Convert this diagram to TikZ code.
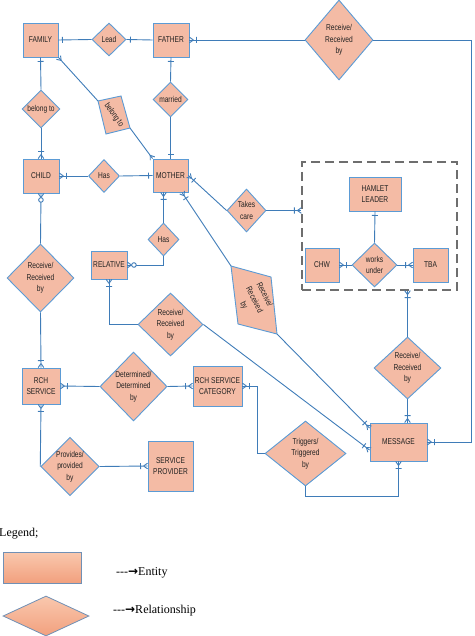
\documentclass[tikz,border=0pt]{standalone}
\usepackage{fontspec}
\setmainfont{Liberation Serif}
\newfontfamily\diagfont[FakeStretch=0.78]{Liberation Sans}
\newfontfamily\arrowfont{DejaVu Sans}
\usetikzlibrary{shapes.geometric,calc}

\definecolor{efill}{HTML}{F4BBA5}
\definecolor{eborder}{HTML}{5B9BD5}
\definecolor{lcol}{HTML}{3F7CB8}
\definecolor{tcol}{HTML}{222222}
\definecolor{dgray}{HTML}{6E6E6E}
\definecolor{legb}{HTML}{7090B5}
\definecolor{legtop}{HTML}{F9C8AE}
\definecolor{legbot}{HTML}{F2A07E}

\pgfdeclarearrow{
  name=ManyOne,
  setup code={\pgfarrowssettipend{0pt}\pgfarrowssetlineend{0pt}\pgfarrowssetbackend{-7pt}},
  drawing code={
    \pgfsetdash{}{0pt}
    \pgfpathmoveto{\pgfpoint{-4pt}{0pt}}\pgfpathlineto{\pgfpoint{0pt}{2.8pt}}
    \pgfpathmoveto{\pgfpoint{-4pt}{0pt}}\pgfpathlineto{\pgfpoint{0pt}{-2.8pt}}
    \pgfpathmoveto{\pgfpoint{-7pt}{3pt}}\pgfpathlineto{\pgfpoint{-7pt}{-3pt}}
    \pgfusepathqstroke},
}
\pgfdeclarearrow{
  name=ManyZero,
  setup code={\pgfarrowssettipend{0pt}\pgfarrowssetlineend{0pt}\pgfarrowssetbackend{-9pt}},
  drawing code={
    \pgfsetdash{}{0pt}
    \pgfpathmoveto{\pgfpoint{-4pt}{0pt}}\pgfpathlineto{\pgfpoint{0pt}{2.8pt}}
    \pgfpathmoveto{\pgfpoint{-4pt}{0pt}}\pgfpathlineto{\pgfpoint{0pt}{-2.8pt}}
    \pgfusepathqstroke
    \pgfsetfillcolor{white}
    \pgfpathcircle{\pgfpoint{-6.5pt}{0pt}}{2.3pt}
    \pgfusepathqfillstroke},
}
\pgfdeclarearrow{
  name=One,
  setup code={\pgfarrowssettipend{0pt}\pgfarrowssetlineend{0pt}\pgfarrowssetbackend{-4pt}},
  drawing code={
    \pgfsetdash{}{0pt}
    \pgfpathmoveto{\pgfpoint{-4pt}{3pt}}\pgfpathlineto{\pgfpoint{-4pt}{-3pt}}
    \pgfusepathqstroke},
}
\pgfdeclarearrow{
  name=Crow,
  setup code={\pgfarrowssettipend{0pt}\pgfarrowssetlineend{0pt}\pgfarrowssetbackend{-4pt}},
  drawing code={
    \pgfsetdash{}{0pt}
    \pgfpathmoveto{\pgfpoint{-4pt}{0pt}}\pgfpathlineto{\pgfpoint{0pt}{2.8pt}}
    \pgfpathmoveto{\pgfpoint{-4pt}{0pt}}\pgfpathlineto{\pgfpoint{0pt}{-2.8pt}}
    \pgfusepathqstroke},
}

\tikzset{
  dfont/.style={font=\diagfont\fontsize{8.5}{11.5}\selectfont, text=tcol},
  ent/.style={draw=eborder, line width=0.9pt, fill=efill, dfont, align=center, inner sep=0pt},
  rel/.style={diamond, draw=eborder, line width=0.9pt, fill=efill, dfont, align=center, inner sep=0pt},
  con/.style={draw=lcol, line width=0.9pt},
  legfont/.style={font=\fontsize{12}{14}\selectfont, text=black},
}

\begin{document}
\begin{tikzpicture}[x=1pt,y=-1pt]
\useasboundingbox (0,0) rectangle (474,636);

% group box
\node[draw=dgray, line width=1.2pt, dash pattern=on 9pt off 5pt, minimum width=155pt, minimum height=128pt, inner sep=0pt] (grp) at (379.5,226) {};

% entities and relationships
\node[ent, minimum width=35pt, minimum height=34pt] (family) at (40.5,40) {FAMILY};
\node[rel, minimum width=34pt, minimum height=33pt] (lead) at (109,39.5) {Lead};
\node[ent, minimum width=36pt, minimum height=34pt] (father) at (171,40) {FATHER};
\node[rel, minimum width=68pt, minimum height=80pt] (rtop) at (339,40) {Receive/\\Received\\by};
\node[rel, minimum width=38pt, minimum height=38pt] (bel1) at (41,109) {belong to};
\node[rel, minimum width=35pt, minimum height=35pt] (married) at (170.5,99.5) {married};
\node[ent, minimum width=36pt, minimum height=34pt] (child) at (41,176) {CHILD};
\node[rel, minimum width=31pt, minimum height=33pt] (has1) at (104,176) {Has};
\node[ent, minimum width=35pt, minimum height=33pt] (mother) at (170.5,175.5) {MOTHER};
\node[rel, minimum width=67pt, minimum height=68pt] (rleft) at (40.5,278) {Receive/\\Received\\by};
\node[rel, minimum width=31pt, minimum height=33pt] (has2) at (163.5,239.5) {Has};
\node[ent, minimum width=36pt, minimum height=28pt] (relative) at (109,265) {RELATIVE};
\node[rel, minimum width=65pt, minimum height=63pt] (rmid) at (170.5,324.5) {Receive/\\Received\\by};
\node[rel, minimum width=39pt, minimum height=43pt] (takes) at (246.5,210.5) {Takes\\care};
\node[ent, minimum width=52pt, minimum height=34pt] (hamlet) at (375,194) {HAMLET\\LEADER};
\node[ent, minimum width=34pt, minimum height=34pt] (chw) at (322,265) {CHW};
\node[rel, minimum width=45pt, minimum height=44pt] (works) at (374.5,265) {works\\under};
\node[ent, minimum width=35pt, minimum height=34pt] (tba) at (430.5,265) {TBA};
\node[rel, minimum width=67pt, minimum height=62pt] (rright) at (407.5,368) {Receive/\\Received\\by};
\node[ent, minimum width=57pt, minimum height=38pt] (message) at (398.5,442) {MESSAGE};
\node[ent, minimum width=38pt, minimum height=36pt] (rch) at (41,386) {RCH\\SERVICE};
\node[rel, minimum width=65pt, minimum height=69pt] (det) at (133.5,386.5) {Determined/\\Determined\\by};
\node[ent, minimum width=49pt, minimum height=40pt] (cat) at (217.5,386) {RCH SERVICE\\CATEGORY};
\node[rel, minimum width=81pt, minimum height=65pt] (trig) at (305.5,453.5) {Triggers/\\Triggered\\by};
\node[rel, minimum width=58pt, minimum height=57pt] (prov) at (70,466.5) {Provides/\\provided\\by};
\node[ent, minimum width=45pt, minimum height=50pt] (sp) at (170.5,466) {SERVICE\\PROVIDER};

% tilted relationship "belong to"
\coordinate (b2a) at (98,101);
\coordinate (b2b) at (121,96);
\coordinate (b2c) at (130,128);
\coordinate (b2d) at (106,134);
\filldraw[fill=efill, draw=eborder, line width=0.9pt] (b2a) -- (b2b) -- (b2c) -- (b2d) -- cycle;
\node[dfont, rotate=-55, inner sep=0pt] (bel2) at (114,115) {belong to};

% tilted relationship "Receive/Received by"
\coordinate (r2a) at (231,266);
\coordinate (r2b) at (271,277);
\coordinate (r2c) at (277,334);
\coordinate (r2d) at (238,324);
\filldraw[fill=efill, draw=eborder, line width=0.9pt] (r2a) -- (r2b) -- (r2c) -- (r2d) -- cycle;
\node[dfont, rotate=-63, align=center, inner sep=0pt] (rrot) at (254,300) {Receive/\\Received\\by};

% connectors
\draw[con,{One}-] (family.east) -- (lead.west);
\draw[con,{One}-] (lead.east) -- (father.west);
\draw[con,{ManyOne}-] (father.east) -- (rtop.west);
\draw[con,{ManyOne}-] (message.east) -- ++(44,0) |- (rtop.east);
\draw[con,{One}-] (family.south) -- (bel1.north);
\draw[con,-{ManyOne}] (bel1.south) -- (child.north);
\draw[con,{Crow}-] (family.south east) -- (b2a);
\draw[con,-{Crow}] (b2c) -- (mother.north west);
\draw[con,{One}-] (father.south) -- (married.north);
\draw[con,-{One}] (married.south) -- (mother.north);
\draw[con,{ManyOne}-] (child.east) -- (has1.west);
\draw[con,-{One}] (has1.east) -- (mother.west);
\draw[con,{ManyZero}-] (child.south) -- (rleft.north);
\draw[con,-{ManyOne}] (rleft.south) -- (rch.north);
\draw[con,{ManyOne}-] (mother.east) -- (takes.west);
\draw[con,-{ManyOne}] (takes.east) -- (takes.east -| grp.west);
\draw[con,{ManyOne}-] ([xshift=11.5pt]mother.south) -- (r2a);
\draw[con,-{ManyOne}] (r2c) -- ([yshift=14pt]message.west);
\draw[con,{ManyOne}-] (has2.north |- mother.south) -- (has2.north);
\draw[con,-{ManyZero}] (has2.south) |- (relative.east);
\draw[con,{ManyOne}-] (relative.south) |- (rmid.west);
\draw[con,-{ManyOne}] (rmid.east) -- ([yshift=-8pt]message.west);
\draw[con,{ManyOne}-] (rch.east) -- (det.west);
\draw[con,-{ManyOne}] (det.east) -- (cat.west);
\draw[con,{ManyOne}-] (cat.east) -- ++(15,0) |- (trig.west);
\draw[con,-{ManyOne}] (trig.south) -- ++(0,10) -| (message.south);
\draw[con,{ManyOne}-] (rch.south) -- (prov.west);
\draw[con,-{ManyOne}] (prov.east) -- (sp.west);
\draw[con,{ManyOne}-] (chw.east) -- (works.west);
\draw[con,-{ManyOne}] (works.east) -- (tba.west);
\draw[con,-{One}] (works.north) -- (hamlet.south);
\draw[con,{ManyOne}-] (rright.north |- grp.south) -- (rright.north);
\draw[con,-{ManyOne}] (rright.south) -- (rright.south |- message.north);

% legend
\node[legfont, anchor=base west, inner sep=0pt] (legtitle) at (-1,536) {Legend;};
\node[draw=legb, line width=0.8pt, top color=legtop, bottom color=legbot, minimum width=78pt, minimum height=31pt, inner sep=0pt] (legent) at (42,567.5) {};
\node[diamond, draw=legb, line width=0.8pt, top color=legtop, bottom color=legbot, minimum width=86pt, minimum height=40pt, inner sep=0pt] (legrel) at (46,616) {};
\node[legfont, anchor=base west, inner sep=0pt] (legt1) at (116,575) {-{}-{}-{\arrowfont\bfseries →}Entity};
\node[legfont, anchor=base west, inner sep=0pt] (legt2) at (113,613) {-{}-{}-{\arrowfont\bfseries →}Relationship};
\end{tikzpicture}
\end{document}
